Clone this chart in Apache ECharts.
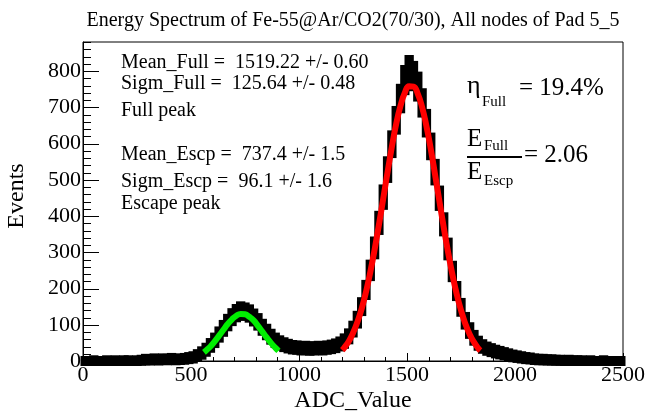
<!DOCTYPE html>
<html>
<head>
<meta charset="utf-8">
<script src="https://cdn.jsdelivr.net/npm/echarts@6/dist/echarts.min.js"></script>
<style>
  html, body { margin: 0; padding: 0; background: #fff; }
  #chart { width: 648px; height: 412px; }
</style>
</head>
<body>
<div id="chart"></div>
<script>
// ADC histogram: 20-unit bins from 0 to 2500, counts per bin
const BIN_WIDTH = 20;
const counts = [
  0, 0, 1, 0, 0, 1, 0, 1, 0, 1,
  1, 0, 1, 2, 4, 3, 5, 3, 5, 4,
  6, 4, 5, 6, 8, 10, 15, 22, 31, 43,
  57, 73, 90, 106, 121, 132, 139, 136, 131, 120,
  108, 93, 80, 67, 57, 50, 45, 41, 38, 37,
  35, 36, 34, 35, 36, 35, 37, 39, 42, 47,
  55, 68, 88, 114, 150, 196, 250, 312, 381, 452,
  528, 598, 664, 724, 775, 802, 786, 757, 712, 656,
  592, 521, 449, 377, 309, 247, 193, 148, 111, 84,
  64, 49, 40, 34, 30, 26, 23, 20, 17, 14,
  12, 10, 8, 7, 5, 4, 4, 3, 3, 2,
  2, 1, 2, 1, 1, 1, 0, 1, 0, 0,
  1, 0, 0, 0, 0
];

// Gaussian fit of the escape peak (Mean 737.4, Sigma 96.1)
const fitEscpX = [560, 570, 590, 610, 630, 650, 670, 690, 710, 730, 750, 770, 790, 810, 830, 850, 870, 890, 905];
const fitEscpY = [24, 29, 40, 54, 70, 86, 102, 115, 125, 130, 129, 122, 112, 97, 81, 65, 50, 37, 28];

// Gaussian fit of the full-energy peak (Mean 1519.22, Sigma 125.64)
const fitFullX = [1200, 1210, 1230, 1250, 1270, 1290, 1310, 1330, 1350, 1370, 1390, 1410, 1430, 1450, 1470, 1490,
  1510, 1530, 1550, 1570, 1590, 1610, 1630, 1650, 1670, 1690, 1710, 1730, 1750, 1770, 1790, 1810, 1830, 1840];
const fitFullY = [30, 37, 54, 77, 107, 144, 190, 245, 307, 376, 448, 521, 591, 654, 704, 740,
  758, 757, 737, 700, 648, 585, 514, 441, 369, 301, 239, 185, 140, 103, 74, 52, 35, 29];

const xTicks = [0, 500, 1000, 1500, 2000, 2500];
const yMajorTicks = [0, 100, 200, 300, 400, 500, 600, 700, 800];
const X_MINOR_STEP = 100;
const Y_MINOR_STEP = 20;
const Y_MAX = 880;

const statLines = [
  'Mean_Full =  1519.22 +/- 0.60',
  'Sigm_Full =  125.64 +/- 0.48',
  'Full peak',
  'Mean_Escp =  737.4 +/- 1.5',
  'Sigm_Escp =  96.1 +/- 1.6',
  'Escape peak'
];

const SERIF = '"Liberation Serif", "DejaVu Serif", serif';

const histData = counts.map((c, i) => [BIN_WIDTH * (i + 0.5), c, Math.sqrt(c)]);

const chart = echarts.init(document.getElementById('chart'), null, { renderer: 'canvas' });

function txt(x, y, text, size, align) {
  return {
    type: 'text', x: x, y: y,
    style: { text: text, font: size + 'px ' + SERIF, fill: '#000',
      align: align || 'left', verticalAlign: 'middle' }
  };
}

const statY = [63, 83.5, 110.5, 155, 181.5, 204];
const graphics = statLines.map((t, i) => txt(121, statY[i], t, 20));

graphics.push(
  txt(353, 21, 'Energy Spectrum of Fe-55@Ar/CO2(70/30), All nodes of Pad 5_5', 20, 'center'),
  txt(353, 401, 'ADC_Value', 24, 'center'),
  {
    type: 'text', x: 17, y: 196, rotation: Math.PI / 2,
    style: { text: 'Events', font: '24px ' + SERIF, fill: '#000', align: 'center', verticalAlign: 'middle' }
  },
  txt(467, 86, 'η', 26),
  txt(482, 102, 'Full', 15),
  txt(519, 88, '= 19.4%', 25),
  txt(467, 139, 'E', 25),
  txt(484, 146, 'Full', 15),
  { type: 'line', shape: { x1: 467, y1: 157, x2: 522, y2: 157 }, style: { stroke: '#000', lineWidth: 2 } },
  txt(524, 155, '= 2.06', 25),
  txt(467, 172, 'E', 25),
  txt(484, 181, 'Escp', 15)
);

const option = {
  animation: false,
  backgroundColor: '#fff',
  grid: {
    left: 83, right: 25, top: 42, bottom: 51,
    show: true, borderColor: '#000', borderWidth: 1, backgroundColor: 'transparent'
  },
  xAxis: {
    type: 'value', min: 0, max: 2500, interval: 500,
    axisLine: { show: true, lineStyle: { color: '#000', width: 1 } },
    axisTick: { show: false },
    splitLine: { show: false },
    axisLabel: {
      color: '#000', fontFamily: SERIF, fontSize: 22, margin: 3,
      customValues: xTicks,
      formatter: v => String(v)
    }
  },
  yAxis: {
    type: 'value', min: 0, max: Y_MAX, interval: 100,
    axisLine: { show: true, lineStyle: { color: '#000', width: 1 } },
    axisTick: { show: false },
    splitLine: { show: false },
    axisLabel: {
      color: '#000', fontFamily: SERIF, fontSize: 22, margin: 2,
      customValues: yMajorTicks,
      formatter: v => String(v)
    }
  },
  series: [
    {
      type: 'custom',
      name: 'hist',
      clip: false,
      data: histData,
      encode: { x: 0, y: 1 },
      renderItem: function (params, api) {
        const c = api.value(0), v = api.value(1), e = api.value(2);
        const hw = BIN_WIDTH / 2;
        const tl = api.coord([c - hw, v + e]);
        const br = api.coord([c + hw, v - e]);
        return {
          type: 'rect',
          shape: { x: tl[0] - 2.5, y: tl[1] - 5, width: br[0] - tl[0] + 5, height: br[1] - tl[1] + 10 },
          style: { fill: '#000' }
        };
      },
      z: 2
    },
    {
      type: 'line', name: 'fitEscp',
      data: fitEscpX.map((x, i) => [x, fitEscpY[i]]),
      smooth: true, showSymbol: false, symbol: 'none',
      lineStyle: { color: '#00ee00', width: 6 },
      z: 3
    },
    {
      type: 'line', name: 'fitFull',
      data: fitFullX.map((x, i) => [x, fitFullY[i]]),
      smooth: true, showSymbol: false, symbol: 'none',
      lineStyle: { color: '#ff0000', width: 6 },
      z: 3
    }
  ]
};

chart.setOption(option);

// Inward tick marks on the x and y axes, placed through the axis scales
const x0 = chart.convertToPixel({ xAxisIndex: 0 }, 0);
const y0 = chart.convertToPixel({ yAxisIndex: 0 }, 0);
const tickEls = [];
for (let v = 0; v <= 2500; v += X_MINOR_STEP) {
  const px = Math.round(chart.convertToPixel({ xAxisIndex: 0 }, v)) + 0.5;
  const len = (v % 500 === 0) ? 8 : 4;
  tickEls.push({ type: 'line', z: 1, shape: { x1: px, y1: y0, x2: px, y2: y0 - len }, style: { stroke: '#000', lineWidth: 1 } });
}
for (let v = 0; v <= Y_MAX; v += Y_MINOR_STEP) {
  const py = Math.round(chart.convertToPixel({ yAxisIndex: 0 }, v)) + 0.5;
  const len = (v % 100 === 0) ? 16 : 8;
  tickEls.push({ type: 'line', z: 1, shape: { x1: x0, y1: py, x2: x0 + len, y2: py }, style: { stroke: '#000', lineWidth: 1 } });
}

chart.setOption({ graphic: graphics.concat(tickEls) });
</script>
</body>
</html>
